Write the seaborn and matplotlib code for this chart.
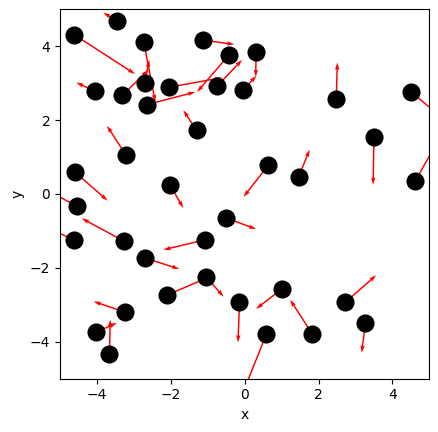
import matplotlib
matplotlib.use("Agg")
import matplotlib.pyplot as plt
import seaborn as sns
import numpy as np
import pandas as pd

# ---------------------------------------------------------------------------
# Data: particle positions and their velocity arrows
# ---------------------------------------------------------------------------

pos_x = [-4.61, -3.46, -2.73, -4.05, -3.31, -2.71, -2.65, -2.06, -1.14, -0.42,
         -0.74, -0.05, 0.31, 2.48, 4.51, 3.50, 4.61, 1.46, 0.64, -1.30,
         -3.21, -4.59, -4.54, -4.63, -3.28, -2.02, -0.50, -1.07, -2.71, -1.04,
         -2.09, -0.14, 1.01, 2.73, 3.27, 1.83, 0.59, -3.23, -4.02, -3.66]
pos_y = [4.31, 4.69, 4.11, 2.78, 2.67, 3.01, 2.42, 2.89, 4.17, 3.77,
         2.93, 2.81, 3.84, 2.57, 2.76, 1.55, 0.34, 0.46, 0.78, 1.72,
         1.05, 0.59, -0.33, -1.24, -1.27, 0.24, -0.65, -1.24, -1.73, -2.25,
         -2.73, -2.93, -2.57, -2.93, -3.49, -3.79, -3.79, -3.20, -3.74, -4.33]
vel_u = [1.64, -0.37, 0.31, -0.51, 0.70, 0.13, 1.31, 1.45, 0.86, -0.87,
         0.67, 0.37, -0.01, 0.03, 1.00, -0.02, 0.60, 0.30, -0.67, -0.36,
         -0.52, 0.88, -0.90, -0.80, -1.13, 0.36, 0.81, -1.13, 0.94, 0.47,
         1.29, -0.04, -0.70, 0.83, -0.10, -0.60, -0.60, -0.86, 0.56, 0.02]
vel_v = [-1.06, 0.22, -1.62, 0.24, 0.69, 0.62, 0.34, 0.26, -0.12, -1.01,
         0.70, 0.39, -0.67, 0.99, -0.83, -1.30, 1.05, 0.74, -0.86, 0.55,
         0.80, -0.77, 0.48, 0.37, 0.61, -0.62, -0.30, -0.27, -0.30, -0.53,
         0.55, -1.09, -0.54, 0.73, -0.81, 0.93, -1.50, 0.29, 0.25, 0.93]

df = pd.DataFrame({"x": pos_x, "y": pos_y, "u": vel_u, "v": vel_v})

# ---------------------------------------------------------------------------
# Figure
# ---------------------------------------------------------------------------

fig = plt.figure(figsize=(4.39, 4.32), dpi=100)
ax = fig.add_axes([60 / 439, 53 / 432, 369.3 / 439, 370 / 432])

ax.quiver(
    df["x"], df["y"], df["u"], df["v"],
    color="red",
    angles="xy",
    scale_units="xy",
    scale=1,
    width=0.004,
    zorder=2,
)
sns.scatterplot(
    data=df, x="x", y="y",
    color="black", s=170, linewidth=0,
    ax=ax, zorder=3,
)

ax.set_xlim(-5, 5)
ax.set_ylim(-5, 5)
ax.set_aspect("equal")
ax.set_xticks([-4, -2, 0, 2, 4])
ax.set_yticks([-4, -2, 0, 2, 4])
ax.set_xlabel("x")
ax.set_ylabel("y")

fig.savefig("out.png", dpi=100)
